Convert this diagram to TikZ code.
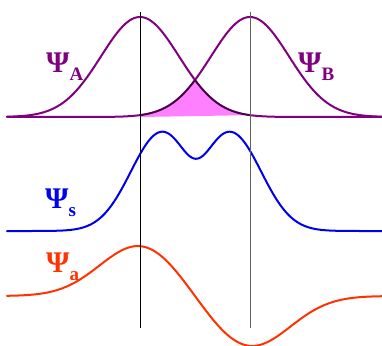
\documentclass[tikz,border=0pt]{standalone}
\usepackage{xcolor}
\usepackage{fontspec}
\setmainfont{Liberation Serif}
\usepackage{tikz}
\usetikzlibrary{positioning}
\definecolor{orbpurple}{HTML}{800080}
\definecolor{orbdark}{HTML}{3A0A3A}
\definecolor{overlappink}{HTML}{FF80FF}
\definecolor{symblue}{HTML}{0000EE}
\definecolor{antired}{HTML}{FF3300}
\definecolor{axisgray}{HTML}{606060}

\tikzset{
  declare function={
    ga(\t)=exp(-(\t-14)^2/30.42);
    gb(\t)=exp(-(\t-25)^2/30.42);
    ws(\t)=exp(-(\t-16)^2/18)+exp(-(\t-23.2)^2/18)-0.212*exp(-(\t-19.6)^2/4.5);
    wa(\t)=exp(-(\t-14)^2/32)-exp(-(\t-25)^2/32);
  },
  wave/.style={line width=2pt, line cap=round},
  psilabel/.style={font=\bfseries\fontsize{30}{30}\selectfont, inner sep=0pt, anchor=base west},
}
\newcommand{\psisub}[1]{Ψ\raisebox{-8pt}{\fontsize{19}{19}\selectfont #1}}

\begin{document}
\begin{tikzpicture}[x=1pt, y=-1pt]
  \useasboundingbox (0,0) rectangle (382,345);

  % overlap of the two atomic orbitals
  \fill[overlappink] (140,117)
    -- plot[domain=14:19.5, samples=40] ({10*\x}, {117-100*gb(\x)})
    -- plot[domain=19.5:25, samples=40] ({10*\x}, {117-100*ga(\x)})
    -- cycle;

  % atomic orbitals
  \draw[wave, orbpurple] plot[domain=0.7:38.2, samples=160] ({10*\x}, {117-100*ga(\x)});
  \draw[wave, orbpurple] plot[domain=0.7:38.2, samples=160] ({10*\x}, {117-100*gb(\x)});
  \draw[line width=1.4pt, orbdark] plot[domain=14:19.5, samples=40] ({10*\x}, {117-100*gb(\x)});
  \draw[line width=1.4pt, orbdark] plot[domain=19.5:25, samples=40] ({10*\x}, {117-100*ga(\x)});

  % bonding and antibonding combinations
  \draw[wave, symblue] plot[domain=0.7:38.2, samples=200] ({10*\x}, {231-94.8*ws(\x)});
  \draw[wave, antired] plot[domain=0.7:38.2, samples=200] ({10*\x}, {296-51*wa(\x)});

  % nuclear positions
  \coordinate (nucAtop) at (140,12);
  \coordinate (nucAbot) at (140,328);
  \coordinate (nucBtop) at (250.5,12);
  \coordinate (nucBbot) at (250.5,328);
  \draw[black, line width=0.8pt] (nucAtop) -- (nucAbot);
  \draw[axisgray, line width=1.2pt] (nucBtop) -- (nucBbot);

  \node[psilabel, orbpurple] (psiA) at (46,72) {\psisub{A}};
  \node[psilabel, orbpurple] (psiB) at (298,72) {\psisub{B}};
  \node[psilabel, symblue] (psiS) at (45,208) {\psisub{s}};
  \node[psilabel, antired] (psiAnti) at (46,272) {\psisub{a}};
\end{tikzpicture}
\end{document}
